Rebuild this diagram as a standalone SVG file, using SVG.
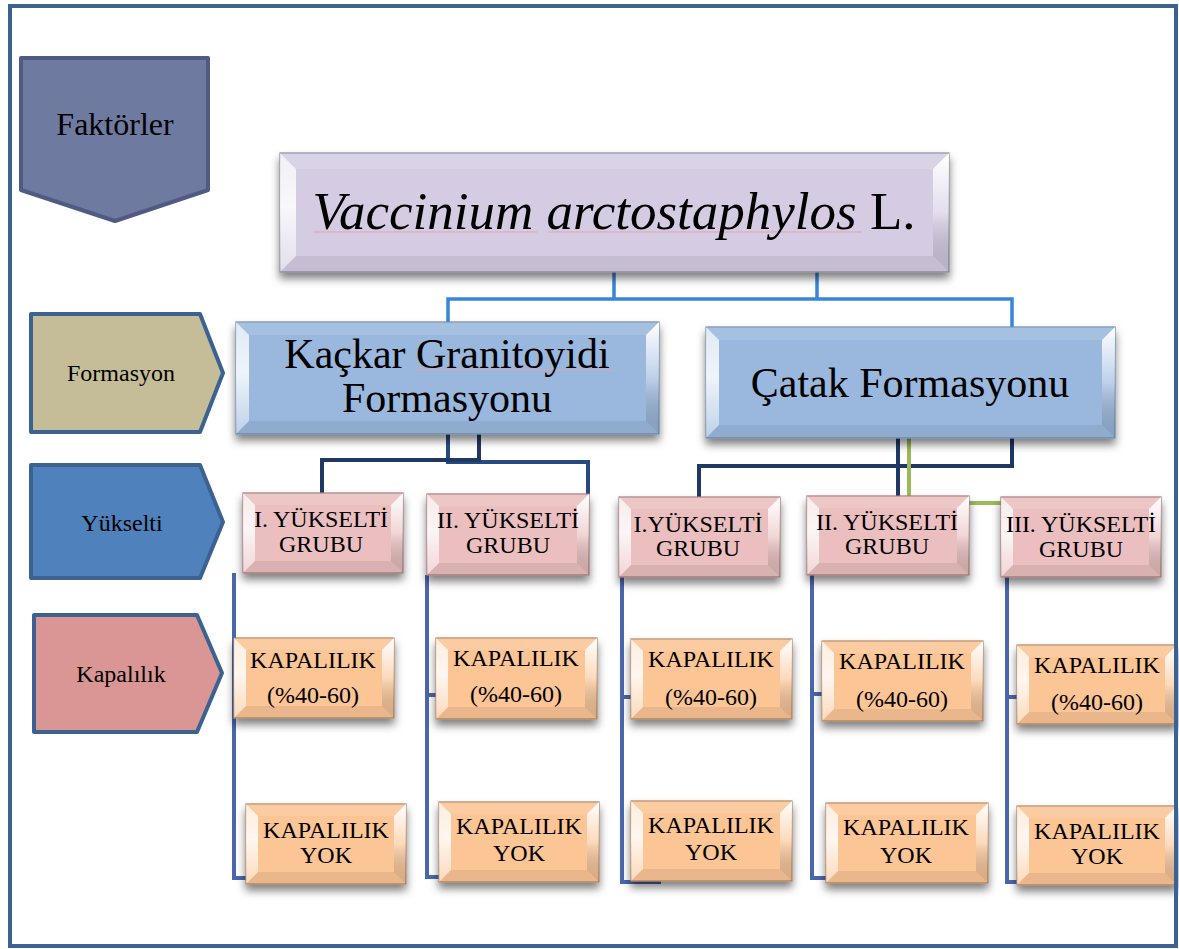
<svg xmlns="http://www.w3.org/2000/svg" width="1179" height="949" viewBox="0 0 1179 949">
<style>
text{font-family:"Liberation Serif","Times New Roman",serif;fill:#000;text-anchor:middle}
.t52{font-size:53px}.t42{font-size:42px}.t31{font-size:32px}.t23{font-size:24px}
.c{fill:none;stroke-linejoin:miter}
.cb{stroke:#3886d9;stroke-width:3.5}
.cn{stroke:#1f3864;stroke-width:4}
.cn2{stroke:#274a80;stroke-width:4}
.cg{stroke:#9bbb59;stroke-width:4}
.cs{stroke:#4a66ad;stroke-width:4}
.lav{fill:#d5cce3;stroke:#8d8799;stroke-width:1.2}
.blu{fill:#9ab8de;stroke:#6f8bb0;stroke-width:1.2}
.pnk{fill:#ebbfbf;stroke:#a27878;stroke-width:1.2}
.org{fill:#fbc596;stroke:#b08560;stroke-width:1.2}
.fl{fill:url(#gL)}.fr{fill:url(#gR)}.ft{fill:#fff;fill-opacity:0.12}.fb{fill:#000;fill-opacity:0.07}
.pg{stroke-width:4;stroke-linejoin:round}
.sp{stroke:#e3a0b0;stroke-width:1.2;fill:none}
</style>
<defs>
<linearGradient id="gL" x1="0" y1="0" x2="0" y2="1"><stop offset="0" stop-color="#fff" stop-opacity="0.7"/><stop offset="0.45" stop-color="#fff" stop-opacity="0.85"/><stop offset="1" stop-color="#fff" stop-opacity="0.35"/></linearGradient>
<linearGradient id="gR" x1="0" y1="0" x2="0" y2="1"><stop offset="0" stop-color="#fff" stop-opacity="1"/><stop offset="0.5" stop-color="#fff" stop-opacity="0.35"/><stop offset="1" stop-color="#000" stop-opacity="0.12"/></linearGradient>
<filter id="sh" x="-10%" y="-20%" width="120%" height="170%"><feDropShadow dx="0" dy="6" stdDeviation="4" flood-color="#000" flood-opacity="0.5"/></filter>
</defs>
<rect x="0" y="0" width="1179" height="949" fill="#fff"/>

<g id="connectors">
<path class="c cb" d="M614,272 V299 M817,272 V299 M448,322 V299 H1012 V327"/>
<path class="c cn2" d="M448,434 V462 H588 V494"/>
<path class="c cn" d="M479,434 V460 H322 V493"/>
<path class="c cn" d="M1012,438 V466 H699 V497 M898,438 V496"/>
<path class="c cg" d="M909,438 V503 H1001"/>
<path class="c cs" d="M234,573 V878 H246"/>
<path class="c cs" d="M427,575 V877 H439 M427,695 H436"/>
<path class="c cs" d="M622,577 V882 H661 M622,697 H631"/>
<path class="c cs" d="M812,575 V878 H826 M812,694 H822"/>
<path class="c cs" d="M1007,577 V882 H1017 M1007,697 H1017"/>
</g>

<g id="faktorler">
<polygon class="pg" points="21,58 208,58 208,190 115,221 21,190" fill="#6f7aa0" stroke="#4f5b82" stroke-width="3"/>
<text class="t31" x="115" y="135">Faktörler</text>
</g>
<g id="formasyon-label">
<polygon class="pg" points="31,314 200,314 223,373 200,432 31,432" fill="#c4bd97" stroke="#3b6291"/>
<text class="t23" x="121" y="381">Formasyon</text>
</g>
<g id="yukselti-label">
<polygon class="pg" points="31,465 200,465 223,522 200,578 31,578" fill="#4f81bd" stroke="#3b6291"/>
<text class="t23" x="122" y="531">Yükselti</text>
</g>
<g id="kapalilik-label">
<polygon class="pg" points="34,615 197,615 222,673 197,732 34,732" fill="#d99694" stroke="#3b6291"/>
<text class="t23" x="121" y="682">Kapalılık</text>
</g>

<g id="title">
<rect class="lav" x="280" y="153" width="669" height="119" filter="url(#sh)"/>
<polygon class="fl" points="280,153 296,169 296,256 280,272"/>
<polygon class="fr" points="949,153 933,169 933,256 949,272"/>
<polygon class="ft" points="280,153 949,153 933,169 296,169"/>
<polygon class="fb" points="280,272 296,256 933,256 949,272"/>
<path class="sp" d="M313,232 H537 M548,232 H862"/>
<text class="t52" x="614" y="229"><tspan font-style="italic">Vaccinium arctostaphylos</tspan> L.</text>
</g>

<g id="kackar">
<rect class="blu" x="236" y="322" width="423" height="112" filter="url(#sh)"/>
<polygon class="fl" points="236,322 249,335 249,421 236,434"/>
<polygon class="fr" points="659,322 646,335 646,421 659,434"/>
<polygon class="ft" points="236,322 659,322 646,335 249,335"/>
<polygon class="fb" points="236,434 249,421 646,421 659,434"/>
<path class="sp" d="M417,370 H613"/>
<text class="t42" x="447" y="368">Kaçkar Granitoyidi</text>
<text class="t42" x="447" y="412">Formasyonu</text>
</g>

<g id="catak">
<rect class="blu" x="706" y="327" width="409" height="111" filter="url(#sh)"/>
<polygon class="fl" points="706,327 719,340 719,425 706,438"/>
<polygon class="fr" points="1115,327 1102,340 1102,425 1115,438"/>
<polygon class="ft" points="706,327 1115,327 1102,340 719,340"/>
<polygon class="fb" points="706,438 719,425 1102,425 1115,438"/>
<text class="t42" x="910" y="397">Çatak Formasyonu</text>
</g>

<g id="k-yuk1">
<rect class="pnk" x="243" y="493" width="160" height="80" filter="url(#sh)"/>
<polygon class="fl" points="243,493 255,505 255,561 243,573"/>
<polygon class="fr" points="403,493 391,505 391,561 403,573"/>
<polygon class="ft" points="243,493 403,493 391,505 255,505"/>
<polygon class="fb" points="243,573 255,561 391,561 403,573"/>
<text class="t23" x="321" y="527">I. YÜKSELTİ</text>
<text class="t23" x="321" y="552">GRUBU</text>
</g>
<g id="k-yuk2">
<rect class="pnk" x="427" y="494" width="162" height="81" filter="url(#sh)"/>
<polygon class="fl" points="427,494 439,506 439,563 427,575"/>
<polygon class="fr" points="589,494 577,506 577,563 589,575"/>
<polygon class="ft" points="427,494 589,494 577,506 439,506"/>
<polygon class="fb" points="427,575 439,563 577,563 589,575"/>
<text class="t23" x="508" y="528">II. YÜKSELTİ</text>
<text class="t23" x="508" y="553">GRUBU</text>
</g>
<g id="c-yuk1">
<rect class="pnk" x="619" y="497" width="161" height="80" filter="url(#sh)"/>
<polygon class="fl" points="619,497 631,509 631,565 619,577"/>
<polygon class="fr" points="780,497 768,509 768,565 780,577"/>
<polygon class="ft" points="619,497 780,497 768,509 631,509"/>
<polygon class="fb" points="619,577 631,565 768,565 780,577"/>
<text class="t23" x="698" y="532">I.YÜKSELTİ</text>
<text class="t23" x="698" y="556">GRUBU</text>
</g>
<g id="c-yuk2">
<rect class="pnk" x="807" y="496" width="162" height="79" filter="url(#sh)"/>
<polygon class="fl" points="807,496 819,508 819,563 807,575"/>
<polygon class="fr" points="969,496 957,508 957,563 969,575"/>
<polygon class="ft" points="807,496 969,496 957,508 819,508"/>
<polygon class="fb" points="807,575 819,563 957,563 969,575"/>
<text class="t23" x="887" y="530">II. YÜKSELTİ</text>
<text class="t23" x="887" y="554">GRUBU</text>
</g>
<g id="c-yuk3">
<rect class="pnk" x="1001" y="497" width="160" height="80" filter="url(#sh)"/>
<polygon class="fl" points="1001,497 1013,509 1013,565 1001,577"/>
<polygon class="fr" points="1161,497 1149,509 1149,565 1161,577"/>
<polygon class="ft" points="1001,497 1161,497 1149,509 1013,509"/>
<polygon class="fb" points="1001,577 1013,565 1149,565 1161,577"/>
<text class="t23" x="1081" y="532">III. YÜKSELTİ</text>
<text class="t23" x="1081" y="557">GRUBU</text>
</g>

<g id="k-kap1">
<rect class="org" x="234" y="638" width="160" height="80" filter="url(#sh)"/>
<polygon class="fl" points="234,638 246,650 246,706 234,718"/>
<polygon class="fr" points="394,638 382,650 382,706 394,718"/>
<polygon class="ft" points="234,638 394,638 382,650 246,650"/>
<polygon class="fb" points="234,718 246,706 382,706 394,718"/>
<text class="t23" x="313" y="668">KAPALILIK</text>
<text class="t23" x="313" y="703">(%40-60)</text>
</g>
<g id="k-kap2">
<rect class="org" x="436" y="638" width="161" height="81" filter="url(#sh)"/>
<polygon class="fl" points="436,638 448,650 448,707 436,719"/>
<polygon class="fr" points="597,638 585,650 585,707 597,719"/>
<polygon class="ft" points="436,638 597,638 585,650 448,650"/>
<polygon class="fb" points="436,719 448,707 585,707 597,719"/>
<text class="t23" x="516" y="666">KAPALILIK</text>
<text class="t23" x="516" y="702">(%40-60)</text>
</g>
<g id="c-kap1">
<rect class="org" x="631" y="639" width="161" height="80" filter="url(#sh)"/>
<polygon class="fl" points="631,639 643,651 643,707 631,719"/>
<polygon class="fr" points="792,639 780,651 780,707 792,719"/>
<polygon class="ft" points="631,639 792,639 780,651 643,651"/>
<polygon class="fb" points="631,719 643,707 780,707 792,719"/>
<text class="t23" x="711" y="667">KAPALILIK</text>
<text class="t23" x="711" y="705">(%40-60)</text>
</g>
<g id="c-kap2">
<rect class="org" x="822" y="641" width="161" height="80" filter="url(#sh)"/>
<polygon class="fl" points="822,641 834,653 834,709 822,721"/>
<polygon class="fr" points="983,641 971,653 971,709 983,721"/>
<polygon class="ft" points="822,641 983,641 971,653 834,653"/>
<polygon class="fb" points="822,721 834,709 971,709 983,721"/>
<text class="t23" x="902" y="669">KAPALILIK</text>
<text class="t23" x="902" y="707">(%40-60)</text>
</g>
<g id="c-kap3">
<rect class="org" x="1017" y="645" width="160" height="79" filter="url(#sh)"/>
<polygon class="fl" points="1017,645 1029,657 1029,712 1017,724"/>
<polygon class="fr" points="1177,645 1165,657 1165,712 1177,724"/>
<polygon class="ft" points="1017,645 1177,645 1165,657 1029,657"/>
<polygon class="fb" points="1017,724 1029,712 1165,712 1177,724"/>
<text class="t23" x="1097" y="673">KAPALILIK</text>
<text class="t23" x="1097" y="710">(%40-60)</text>
</g>

<g id="k-yok1">
<rect class="org" x="246" y="804" width="160" height="80" filter="url(#sh)"/>
<polygon class="fl" points="246,804 258,816 258,872 246,884"/>
<polygon class="fr" points="406,804 394,816 394,872 406,884"/>
<polygon class="ft" points="246,804 406,804 394,816 258,816"/>
<polygon class="fb" points="246,884 258,872 394,872 406,884"/>
<text class="t23" x="326" y="838">KAPALILIK</text>
<text class="t23" x="326" y="863">YOK</text>
</g>
<g id="k-yok2">
<rect class="org" x="439" y="802" width="160" height="80" filter="url(#sh)"/>
<polygon class="fl" points="439,802 451,814 451,870 439,882"/>
<polygon class="fr" points="599,802 587,814 587,870 599,882"/>
<polygon class="ft" points="439,802 599,802 587,814 451,814"/>
<polygon class="fb" points="439,882 451,870 587,870 599,882"/>
<text class="t23" x="519" y="834">KAPALILIK</text>
<text class="t23" x="519" y="861">YOK</text>
</g>
<g id="c-yok1">
<rect class="org" x="631" y="801" width="161" height="80" filter="url(#sh)"/>
<polygon class="fl" points="631,801 643,813 643,869 631,881"/>
<polygon class="fr" points="792,801 780,813 780,869 792,881"/>
<polygon class="ft" points="631,801 792,801 780,813 643,813"/>
<polygon class="fb" points="631,881 643,869 780,869 792,881"/>
<text class="t23" x="711" y="833">KAPALILIK</text>
<text class="t23" x="711" y="860">YOK</text>
</g>
<g id="c-yok2">
<rect class="org" x="826" y="803" width="162" height="80" filter="url(#sh)"/>
<polygon class="fl" points="826,803 838,815 838,871 826,883"/>
<polygon class="fr" points="988,803 976,815 976,871 988,883"/>
<polygon class="ft" points="826,803 988,803 976,815 838,815"/>
<polygon class="fb" points="826,883 838,871 976,871 988,883"/>
<text class="t23" x="906" y="835">KAPALILIK</text>
<text class="t23" x="906" y="863">YOK</text>
</g>
<g id="c-yok3">
<rect class="org" x="1017" y="806" width="160" height="79" filter="url(#sh)"/>
<polygon class="fl" points="1017,806 1029,818 1029,873 1017,885"/>
<polygon class="fr" points="1177,806 1165,818 1165,873 1177,885"/>
<polygon class="ft" points="1017,806 1177,806 1165,818 1029,818"/>
<polygon class="fb" points="1017,885 1029,873 1165,873 1177,885"/>
<text class="t23" x="1097" y="839">KAPALILIK</text>
<text class="t23" x="1097" y="864">YOK</text>
</g>

<g id="frame">
<rect x="10" y="6" width="1166" height="940" fill="none" stroke="#3c6192" stroke-width="4"/>
</g>
</svg>
